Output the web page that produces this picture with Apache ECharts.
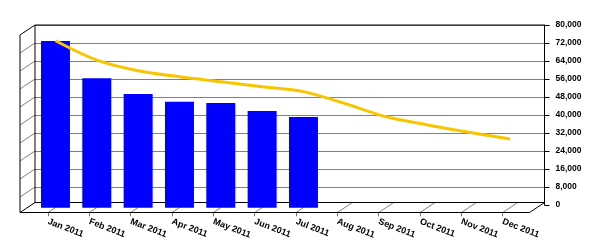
<!DOCTYPE html>
<html>
<head>
<meta charset="utf-8">
<script src="https://cdn.jsdelivr.net/npm/echarts@6/dist/echarts.min.js"></script>
<style>html,body{margin:0;padding:0;background:#fff}#c{width:600px;height:250px}</style>
</head>
<body>
<div id="c"></div>
<script>
const categories = ['Jan 2011','Feb 2011','Mar 2011','Apr 2011','May 2011','Jun 2011','Jul 2011','Aug 2011','Sep 2011','Oct 2011','Nov 2011','Dec 2011'];
const barValues = [74100, 57500, 50500, 47100, 46500, 43000, 40300, null, null, null, null, null];
const lineValues = [74200, 65600, 60900, 58200, 56000, 53800, 51600, 46300, 40400, 36800, 33500, 30500];
const yMin = 0, yMax = 80000, yStep = 8000;

const fmt = v => String(v).replace(/\B(?=(\d{3})+(?!\d))/g, ',');
const FONT = 'Liberation Sans';
const chart = echarts.init(document.getElementById('c'), null, {renderer: 'canvas'});

// geometry of the 3D frame
const BACK = {l: 35, r: 544.5, t: 25, floor: 202.5};
const DX = -15, DY = 10;

chart.setOption({
  animation: false,
  backgroundColor: '#fff',
  grid: [
    {left: BACK.l, top: BACK.t, width: BACK.r - BACK.l, height: 180},
    {left: 27.4, top: 202, width: 496, height: 10.3},
    {left: 34.8, top: 27.7, width: 496, height: 180}
  ],
  xAxis: [
    {gridIndex: 0, type: 'category', data: categories, show: false},
    {gridIndex: 1, type: 'category', data: categories, boundaryGap: true,
      axisLine: {show: false},
      axisTick: {show: true, alignWithLabel: true, length: 4, lineStyle: {color: '#777'}},
      axisLabel: {interval: 0, rotate: -21, margin: 9, color: '#000', fontFamily: FONT, fontSize: 9, fontWeight: 'bold'}},
    {gridIndex: 2, type: 'category', data: categories, show: false}
  ],
  yAxis: [
    {gridIndex: 0, type: 'value', position: 'right', min: yMin, max: yMax, interval: yStep,
      axisLine: {show: true, lineStyle: {color: '#000'}},
      axisTick: {show: true, length: 5, lineStyle: {color: '#000'}},
      axisLabel: {margin: 11, color: '#000', fontFamily: FONT, fontSize: 8.5, fontWeight: 'bold', formatter: fmt},
      splitLine: {show: true, showMinLine: false, lineStyle: {color: '#808080'}}},
    {gridIndex: 1, type: 'value', show: false},
    {gridIndex: 2, type: 'value', min: yMin, max: yMax, show: false}
  ],
  series: [
    {type: 'bar', xAxisIndex: 2, yAxisIndex: 2, data: barValues, barWidth: 29,
      itemStyle: {color: '#0000ff'}, z: 3},
    {type: 'line', xAxisIndex: 2, yAxisIndex: 2, data: lineValues, smooth: 0.3,
      symbol: 'none', lineStyle: {color: '#f7c600', width: 3}, z: 4}
  ]
});

// decorative 3D frame (walls/floor), derived from the axes
const g = [];
const line = (x1, y1, x2, y2, color) => g.push({type: 'line', z: 1, silent: true,
  shape: {x1, y1, x2, y2}, style: {stroke: color, lineWidth: 1}});
// left wall grid diagonals
for (let v = yMin + yStep; v < yMax; v += yStep) {
  const y = chart.convertToPixel({yAxisIndex: 0}, v);
  line(BACK.l, y, BACK.l + DX, y + DY, '#808080');
}
// floor diagonals per category
categories.forEach((c, i) => {
  const xf = chart.convertToPixel({xAxisIndex: 1}, c);
  line(xf, BACK.floor + DY, xf - DX, BACK.floor, '#808080');
});
// black frame edges
line(BACK.l, BACK.t, BACK.r, BACK.t, '#000');
line(BACK.l, BACK.t, BACK.l, BACK.floor, '#000');
line(BACK.l, BACK.t, BACK.l + DX, BACK.t + DY, '#000');
line(BACK.l + DX, BACK.t + DY, BACK.l + DX, BACK.floor + DY, '#000');
line(BACK.l, BACK.floor, BACK.r, BACK.floor, '#000');
line(BACK.l + DX, BACK.floor + DY, BACK.r + DX, BACK.floor + DY, '#000');
line(BACK.l, BACK.floor, BACK.l + DX, BACK.floor + DY, '#000');
line(BACK.r, BACK.floor, BACK.r + DX, BACK.floor + DY, '#000');
chart.setOption({graphic: {elements: g}});
</script>
</body>
</html>
